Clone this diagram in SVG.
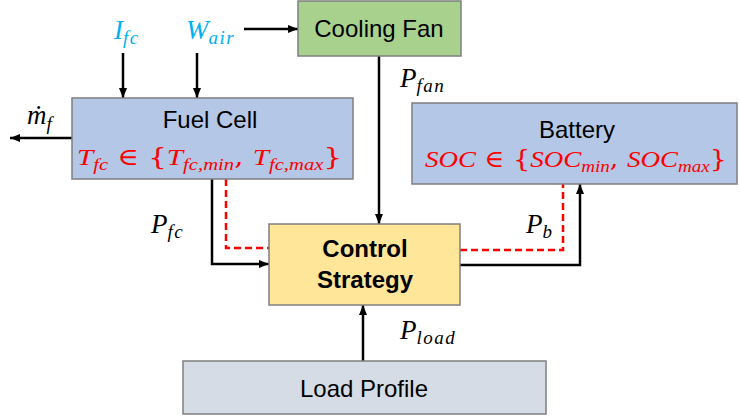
<svg xmlns="http://www.w3.org/2000/svg" width="740" height="417" viewBox="0 0 740 417">
<style>
.box{stroke:#7f7f7f;stroke-width:1.5}
.lbl{font-family:"Liberation Sans",Arial,sans-serif;font-size:24px;fill:#000;text-anchor:middle}
.bold{font-weight:bold}
.math{font-family:"Liberation Serif","DejaVu Serif",serif;font-style:italic;font-size:24px}
.big{font-size:27px}
.sub{font-size:17px}
.lsub{font-size:19px;letter-spacing:1.5px}
.up{font-style:normal;font-family:"DejaVu Serif","Liberation Serif",serif}
.blue{fill:#00b0f0}
.red{fill:#ff0000}
.conn{fill:none;stroke:#000;stroke-width:2.5}
.dash{fill:none;stroke:#ff0000;stroke-width:2.5;stroke-dasharray:7 4}
</style>
<defs>
<marker id="ah" markerUnits="userSpaceOnUse" markerWidth="10" markerHeight="10" viewBox="0 0 10 10" refX="10" refY="5" orient="auto">
<path d="M0,1 L10,5 L0,9 Z" fill="#000"/>
</marker>
</defs>
<g id="connectors">
<path class="conn" d="M123 53 V98" marker-end="url(#ah)"/>
<path class="conn" d="M197 53 V98" marker-end="url(#ah)"/>
<path class="conn" d="M244 29 H298" marker-end="url(#ah)"/>
<path class="conn" d="M72 138 H10" marker-end="url(#ah)"/>
<path class="conn" d="M379 56 V224" marker-end="url(#ah)"/>
<path class="conn" d="M212 179 V264 H269" marker-end="url(#ah)"/>
<path class="dash" d="M226 179 V248 H269"/>
<path class="conn" d="M460 265 H580 V184" marker-end="url(#ah)"/>
<path class="dash" d="M460 250 H563 V184"/>
<path class="conn" d="M363 361 V305" marker-end="url(#ah)"/>
</g>
<g id="cooling-fan">
<rect class="box" x="298" y="1" width="163" height="55" fill="#a9d18e"/>
<text class="lbl" x="379" y="37">Cooling Fan</text>
</g>
<g id="fuel-cell">
<rect class="box" x="72" y="98" width="281" height="81" fill="#b4c7e7"/>
<text class="lbl" x="210" y="128">Fuel Cell</text>
<text class="math red" x="77" y="165" textLength="265" lengthAdjust="spacingAndGlyphs">T<tspan class="sub" dy="5">fc</tspan><tspan class="up" dy="-5"> ∈ {</tspan>T<tspan class="sub" dy="5">fc,min</tspan><tspan class="up" dy="-5">, </tspan>T<tspan class="sub" dy="5">fc,max</tspan><tspan class="up" dy="-5">}</tspan></text>
</g>
<g id="battery">
<rect class="box" x="412" y="103" width="325" height="81" fill="#b4c7e7"/>
<text class="lbl" x="577" y="138">Battery</text>
<text class="math red" x="425" y="167" textLength="302" lengthAdjust="spacingAndGlyphs">SOC<tspan class="up"> ∈ {</tspan>SOC<tspan class="sub" dy="5">min</tspan><tspan class="up" dy="-5">, </tspan>SOC<tspan class="sub" dy="5">max</tspan><tspan class="up" dy="-5">}</tspan></text>
</g>
<g id="control-strategy">
<rect class="box" x="269" y="224" width="191" height="81" fill="#ffe699"/>
<text class="lbl bold" x="365" y="257">Control</text>
<text class="lbl bold" x="365" y="288">Strategy</text>
</g>
<g id="load-profile">
<rect class="box" x="183" y="361" width="363" height="53" fill="#d6dce5"/>
<text class="lbl" x="364" y="397">Load Profile</text>
</g>
<g id="labels">
<text class="math big blue" x="114" y="39">I<tspan class="lsub" dy="5">fc</tspan></text>
<text class="math big blue" x="186" y="39">W<tspan class="lsub" dy="5">air</tspan></text>
<text class="math big" x="27" y="124">ṁ<tspan class="lsub" dy="6">f</tspan></text>
<text class="math big" x="400" y="87">P<tspan class="lsub" dy="5">fan</tspan></text>
<text class="math big" x="151" y="233">P<tspan class="lsub" dy="5">fc</tspan></text>
<text class="math big" x="526" y="233">P<tspan class="lsub" dy="5">b</tspan></text>
<text class="math big" x="400" y="339">P<tspan class="lsub" dy="5">load</tspan></text>
</g>
</svg>
